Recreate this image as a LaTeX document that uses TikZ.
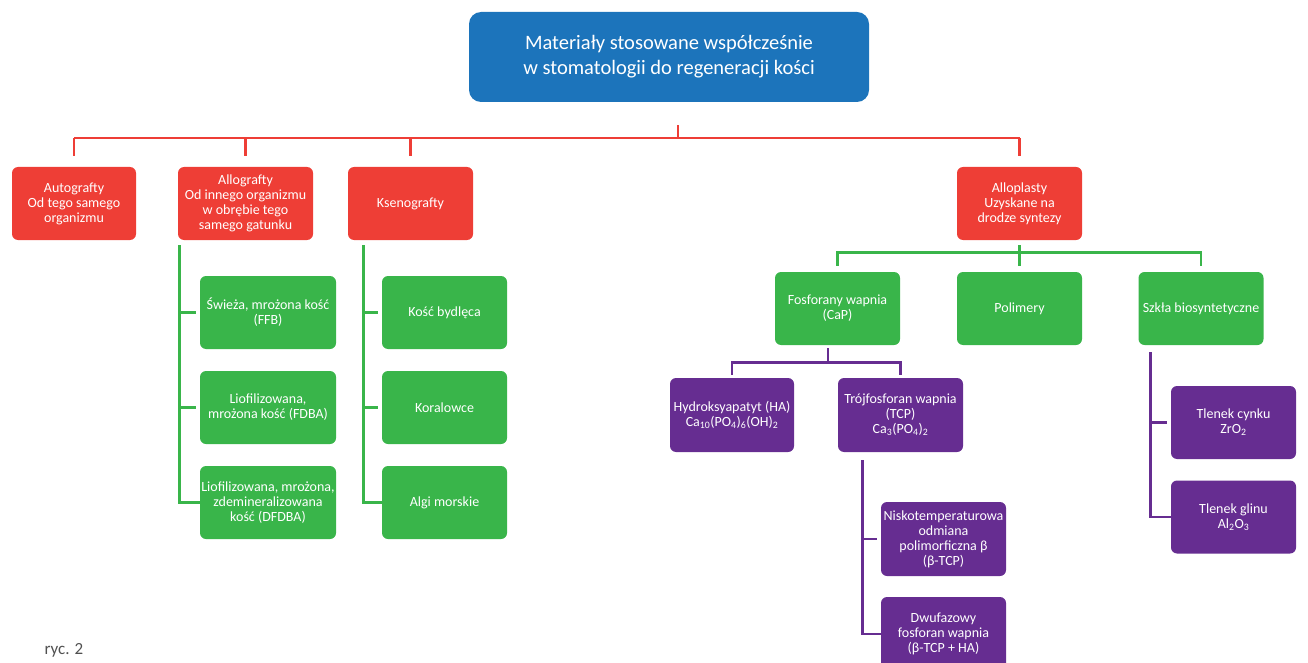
\documentclass[tikz,border=0pt]{standalone}
\usepackage{fontspec}
\setmainfont{Carlito}
\usetikzlibrary{calc}
\definecolor{cblue}{RGB}{28,116,187}
\definecolor{cred}{RGB}{238,62,54}
\definecolor{cgreen}{RGB}{57,181,74}
\definecolor{cpurple}{RGB}{102,45,145}
\definecolor{cgray}{RGB}{80,80,80}
\tikzset{
  bx/.style={rounded corners=6pt, align=center, text=white, inner sep=1pt,
    minimum width=125pt, minimum height=73pt, font=\fontsize{14}{15}\selectfont},
  rbox/.style={bx, fill=cred},
  gbox/.style={bx, fill=cgreen},
  pbox/.style={bx, fill=cpurple},
  rl/.style={draw=cred, line width=2.7pt},
  gl/.style={draw=cgreen, line width=2.7pt},
  pl/.style={draw=cpurple, line width=2.7pt},
}
\begin{document}
\begin{tikzpicture}[x=1pt,y=-1pt]
\useasboundingbox (0,0) rectangle (1308,663);
% top
\node[bx, fill=cblue, rounded corners=12pt, minimum width=400pt, minimum height=90pt,
  font=\fontsize{20.5}{25}\selectfont] (top) at (669,57) {Materiały stosowane współcześnie\\w stomatologii do regeneracji kości};
% red level
\node[rbox, minimum width=124pt] (auto) at (74,203.5) {Autografty\\Od tego samego\\organizmu};
\node[rbox, minimum width=135pt] (allo) at (245.5,203.5) {Allografty\\Od innego organizmu\\w obrębie tego\\samego gatunku};
\node[rbox] (ksen) at (410.5,203.5) {Ksenografty};
\node[rbox] (alp) at (1019.5,203.5) {Alloplasty\\Uzyskane na\\drodze syntezy};
% green under allografty
\node[gbox, minimum width=136pt] (g1) at (268,312.5) {Świeża, mrożona kość\\(FFB)};
\node[gbox, minimum width=136pt] (g2) at (268,407.5) {Liofilizowana,\\mrożona kość (FDBA)};
\node[gbox, minimum width=136pt] (g3) at (268,502.5) {Liofilizowana, mrożona,\\zdemineralizowana\\kość (DFDBA)};
% green under ksenografty
\node[gbox] (k1) at (444.5,312.5) {Kość bydlęca};
\node[gbox] (k2) at (444.5,407.5) {Koralowce};
\node[gbox] (k3) at (444.5,502.5) {Algi morskie};
% green under alloplasty
\node[gbox] (cap) at (837.5,308.5) {Fosforany wapnia\\(CaP)};
\node[gbox] (pol) at (1019.5,308.5) {Polimery};
\node[gbox] (szk) at (1201,308.5) {Szkła biosyntetyczne};
% purple
\node[pbox, minimum width=124pt, minimum height=74pt] (ha) at (732,415) {Hydroksyapatyt (HA)\\Ca\textsubscript{10}(PO\textsubscript{4})\textsubscript{6}(OH)\textsubscript{2}};
\node[pbox, minimum height=74pt] (tcp) at (900.5,415) {Trójfosforan wapnia\\(TCP)\\Ca\textsubscript{3}(PO\textsubscript{4})\textsubscript{2}};
\node[pbox, minimum height=74pt] (ni) at (943.5,539) {Niskotemperaturowa\\odmiana\\polimorficzna β\\(β-TCP)};
\node[pbox, minimum height=74pt] (dw) at (943.5,634) {Dwufazowy\\fosforan wapnia\\(β-TCP + HA)};
\node[pbox] (zr) at (1233.5,422.5) {Tlenek cynku\\ZrO\textsubscript{2}};
\node[pbox] (al) at (1233.5,517) {Tlenek glinu\\Al\textsubscript{2}O\textsubscript{3}};
% caption
\node[font=\fontsize{17}{18}\selectfont, text=cgray, inner sep=0pt] (cap2) at (64,650) {ryc. 2};
% red connectors
\coordinate (rj) at (678,138);
\draw[rl] ([yshift=-23pt]top.south -| rj) -- (rj);
\draw[rl] (auto.north |- rj) -- (alp.north |- rj);
\foreach \n in {auto,allo,ksen,alp} \draw[rl] (\n.north |- rj) -- ([yshift=11pt]\n.north);
% green under allografty
\coordinate (ga) at ([xshift=2pt,yshift=-5pt]allo.south west);
\draw[gl] (ga) |- (g3.west);
\foreach \n in {g1,g2,g3} \draw[gl, shorten >=4pt] (ga |- \n.west) -- (\n.west);
% green under ksenografty
\coordinate (gk) at ([xshift=16pt,yshift=-5pt]ksen.south west);
\draw[gl] (gk) |- (k3.west);
\foreach \n in {k1,k2,k3} \draw[gl, shorten >=4pt] (gk |- \n.west) -- (\n.west);
% green under alloplasty
\coordinate (gj) at ([yshift=-12pt]alp.south);
\draw[gl] ([yshift=-5pt]alp.south) -- (gj);
\draw[gl] ([yshift=6pt]cap.north) -- (cap.north |- gj) -- (szk.north |- gj) -- ([yshift=6pt]szk.north);
\draw[gl] ([yshift=6pt]pol.north) -- (pol.north |- gj);
% purple under CaP
\coordinate (pj) at ([xshift=-9.5pt,yshift=-17pt]cap.south);
\draw[pl] ([xshift=-9.5pt,yshift=-3pt]cap.south) -- (pj);
\draw[pl] ([yshift=3pt]ha.north) |- (pj) -| ([yshift=3pt]tcp.north);
% purple under TCP
\coordinate (pt) at ([xshift=25pt,yshift=-8pt]tcp.south west);
\draw[pl] (pt) |- (dw.west);
\foreach \n in {ni,dw} \draw[pl, shorten >=4pt] (pt |- \n.west) -- (\n.west);
% purple under Szkla
\coordinate (ps) at ([xshift=12pt,yshift=-7pt]szk.south west);
\draw[pl] (ps) |- (al.west);
\foreach \n in {zr,al} \draw[pl, shorten >=4pt] (ps |- \n.west) -- (\n.west);
\end{tikzpicture}
\end{document}
